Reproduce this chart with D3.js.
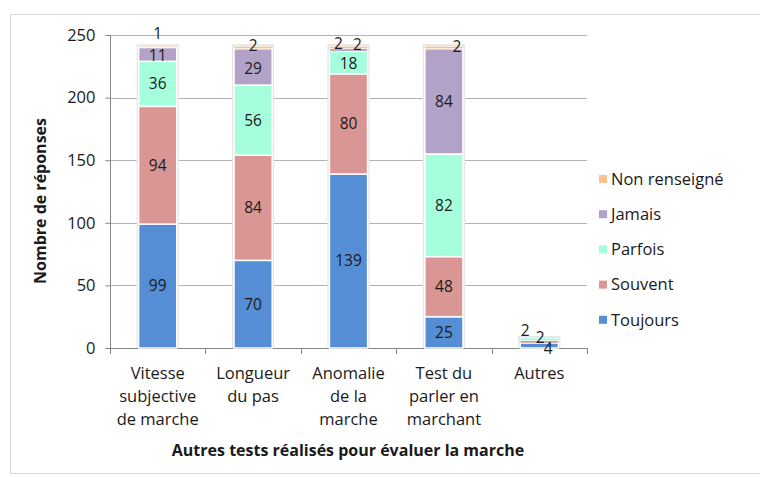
<!DOCTYPE html>
<html>
<head>
<meta charset="utf-8">
<script src="https://cdn.jsdelivr.net/npm/d3@7"></script>
<style>
  body { margin: 0; background: #fff; }
  text { font-family: "Open Sans", sans-serif; fill: #1a1a1a; }
</style>
</head>
<body>
<script>
var categories = [
  ["Vitesse", "subjective", "de marche"],
  ["Longueur", "du pas"],
  ["Anomalie", "de la", "marche"],
  ["Test du", "parler en", "marchant"],
  ["Autres"]
];
var seriesNames = ["Toujours", "Souvent", "Parfois", "Jamais", "Non renseigné"];
var seriesColors = ["#558ed5", "#d99694", "#a6ffdc", "#b3a2c7", "#fac090"];

var toujours = [99, 70, 139, 25, 4];
var souvent = [94, 84, 80, 48, 2];
var parfois = [36, 56, 18, 82, 2];
var jamais = [11, 29, 2, 84, 0];
var nonRenseigne = [1, 2, 2, 2, 0];

var yTicks = [0, 50, 100, 150, 200, 250];

var svgWidth = 760, svgHeight = 477;
var svg = d3.select("body").append("svg")
  .attr("width", svgWidth)
  .attr("height", svgHeight);

// chart frame
svg.append("rect")
  .attr("x", 10.5).attr("y", 14.5)
  .attr("width", 770).attr("height", 459)
  .attr("fill", "none").attr("stroke", "#d9d9d9");

var keys = categories.map(function(c){ return c.join(" "); });
var data = keys.map(function(k, i){
  return { cat: k, Toujours: toujours[i], Souvent: souvent[i], Parfois: parfois[i],
           Jamais: jamais[i], "Non renseigné": nonRenseigne[i] };
});

var x = d3.scaleBand().domain(keys).range([110, 587]).paddingInner(0.6).paddingOuter(0.3);
var y = d3.scaleLinear().domain([0, 250]).range([348, 35]);
var color = d3.scaleOrdinal().domain(seriesNames).range(seriesColors);

var stacked = d3.stack().keys(seriesNames)(data);

// gridlines
svg.selectAll(".grid").data(yTicks.slice(1)).enter().append("line")
  .attr("x1", 110).attr("x2", 587)
  .attr("y1", function(d){ return Math.round(y(d)) + 0.5; })
  .attr("y2", function(d){ return Math.round(y(d)) + 0.5; })
  .attr("stroke", "#b3b3b3");

// axes
var yaxis = d3.axisLeft(y).tickValues(yTicks).tickSize(5).tickPadding(10);
var gy = svg.append("g").attr("transform", "translate(110.5,0)").call(yaxis);
gy.selectAll("line, path").attr("stroke", "#868686");
gy.selectAll("text").attr("font-size", "16.5px").style("font-family", "'Open Sans', sans-serif").attr("fill", "#1a1a1a");
gy.select(".domain").attr("d", "M0," + y(250) + "V" + y(0));

var xOuter = d3.scaleLinear().domain([0, keys.length]).range([110, 587]);
var gx = svg.append("g");
gx.append("line")
  .attr("x1", 110).attr("x2", 587)
  .attr("y1", y(0) + 0.5).attr("y2", y(0) + 0.5)
  .attr("stroke", "#868686");
gx.selectAll(".xt").data(d3.range(keys.length + 1)).enter().append("line")
  .attr("x1", function(d){ return Math.round(xOuter(d)) + 0.5; })
  .attr("x2", function(d){ return Math.round(xOuter(d)) + 0.5; })
  .attr("y1", y(0)).attr("y2", y(0) + 6)
  .attr("stroke", "#868686");

// bars: shadow behind then segments
svg.selectAll(".shadow").data(data).enter().append("rect")
  .attr("x", function(d){ return x(d.cat) - 2; })
  .attr("y", function(d){
    var t = d3.sum(seriesNames, function(s){ return d[s]; });
    return y(t) - 2;
  })
  .attr("width", x.bandwidth() + 4)
  .attr("height", function(d){
    var t = d3.sum(seriesNames, function(s){ return d[s]; });
    return y(0) - y(t) + 2;
  })
  .attr("fill", "#e6e6e6");

var layers = svg.selectAll(".layer").data(stacked).enter().append("g")
  .attr("fill", function(d){ return color(d.key); });

layers.selectAll("rect").data(function(d){ return d; }).enter().append("rect")
  .attr("x", function(d){ return x(d.data.cat); })
  .attr("y", function(d){ return y(d[1]); })
  .attr("width", x.bandwidth())
  .attr("height", function(d){ return Math.max(0, y(d[0]) - y(d[1])); })
  .attr("stroke", "#fff")
  .attr("stroke-width", function(d){ return (d[1] - d[0]) < 3 ? 0.6 : 1.5; });

// label nudges for tiny segments (category index, series) -> [dx, dy]
function nudge(ci, s) {
  if (ci === 0 && s === "Non renseigné") return [0, -13];
  if (ci === 0 && s === "Jamais") return [0, 1];
  if (ci === 1 && s === "Non renseigné") return [0, -2];
  if (ci === 1 && s === "Jamais") return [0, 2];
  if (ci === 2 && s === "Jamais") return [-10, -6];
  if (ci === 2 && s === "Non renseigné") return [9, -3];
  if (ci === 2 && s === "Parfois") return [0, 1];
  if (ci === 3 && s === "Non renseigné") return [13, -1];
  if (ci === 4 && s === "Parfois") return [-14, -9];
  if (ci === 4 && s === "Souvent") return [1, -4];
  if (ci === 4 && s === "Toujours") return [9, 3];
  return [0, 0];
}

stacked.forEach(function(layer){
  layer.forEach(function(d, ci){
    var v = d[1] - d[0];
    if (v <= 0) return;
    var n = nudge(ci, layer.key);
    svg.append("text")
      .attr("x", x(d.data.cat) + x.bandwidth() / 2 + n[0])
      .attr("y", (y(d[0]) + y(d[1])) / 2 + n[1])
      .attr("dy", "0.35em")
      .attr("text-anchor", "middle")
      .attr("font-size", "15.5px")
      .text(v);
  });
});

// category labels
categories.forEach(function(lines, i){
  var t = svg.append("text")
    .attr("text-anchor", "middle")
    .attr("font-size", "16.5px");
  lines.forEach(function(line, j){
    t.append("tspan")
      .attr("x", x(keys[i]) + x.bandwidth() / 2)
      .attr("y", 379 + j * 23)
      .text(line);
  });
});

// axis titles
svg.append("text")
  .attr("transform", "translate(46,201) rotate(-90)")
  .attr("text-anchor", "middle")
  .attr("font-size", "16px")
  .attr("font-weight", "bold")
  .text("Nombre de réponses");

svg.append("text")
  .attr("x", 348).attr("y", 456)
  .attr("text-anchor", "middle")
  .attr("font-size", "16px")
  .attr("font-weight", "bold")
  .text("Autres tests réalisés pour évaluer la marche");

// legend, top entry is last series
var legendNames = seriesNames.slice().reverse();
var lg = svg.selectAll(".lg").data(legendNames).enter().append("g")
  .attr("transform", function(d, i){ return "translate(599," + (179 + i * 35.2) + ")"; });
lg.append("rect")
  .attr("x", 0).attr("y", -4).attr("width", 8).attr("height", 8)
  .attr("fill", function(d){ return color(d); });
lg.append("text")
  .attr("x", 12).attr("dy", "0.35em")
  .attr("font-size", "16.5px")
  .text(function(d){ return d; });
</script>
</body>
</html>
